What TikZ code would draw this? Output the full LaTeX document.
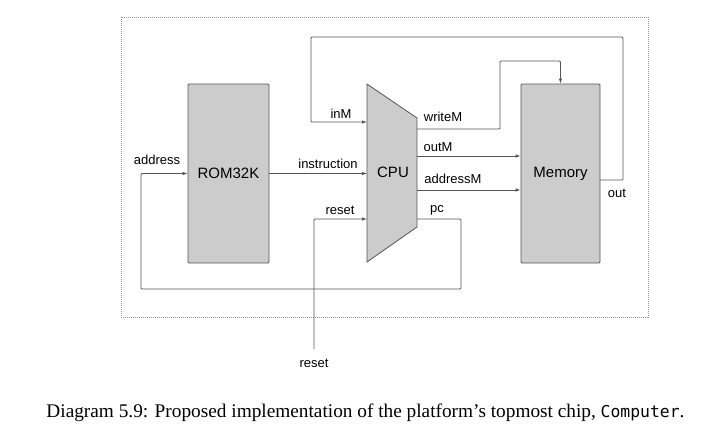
\documentclass[tikz,border=0pt]{standalone}
\usepackage{fontspec}
\setmainfont{Liberation Serif}
\setsansfont{Liberation Sans}
\setmonofont[Scale=0.85]{DejaVu Sans Mono}
\usetikzlibrary{arrows.meta, positioning, calc}
\definecolor{chipgray}{RGB}{204,204,204}
\definecolor{wiregray}{RGB}{85,85,85}
\definecolor{framegray}{RGB}{150,150,150}

\begin{document}
\begin{tikzpicture}[x=1pt, y=-1pt,
    chip/.style={draw=wiregray, fill=chipgray, line width=0.8pt, rounded corners=1pt,
      minimum width=80pt, minimum height=179pt, font=\sffamily\fontsize{15}{15}\selectfont},
    wire/.style={draw=wiregray, line width=0.8pt, rounded corners=1pt},
    bus/.style={wire, -{Latex[length=5pt,width=3.5pt]}},
    pin/.style={font=\sffamily\fontsize{13}{13}\selectfont, inner sep=0pt}]
  \useasboundingbox (0,0) rectangle (707,440);

  % Computer frame
  \draw[framegray, dash pattern=on 1pt off 1pt, line width=0.9pt] (121,17) rectangle (648,317);

  % Chips
  \node[chip, minimum width=81pt] (rom) at (228.5,173.5) {ROM32K};
  \node[chip, minimum width=79pt] (memory) at (560.5,173.5) {Memory};
  \draw[wire, fill=chipgray, rounded corners=0pt] (367,84) -- (417,118) -- (417,227) -- (367,262) -- cycle;
  \node[font=\sffamily\fontsize{15}{15}\selectfont] (cpu) at (393,172) {CPU};

  % Pins
  \coordinate (cpu inM) at (367,122);
  \coordinate (cpu reset) at (367,219);
  \coordinate (cpu writeM) at (417,129);
  \coordinate (cpu outM) at (417,156);
  \coordinate (cpu addressM) at (417,190);
  \coordinate (cpu pc) at (417,219);
  \coordinate (mem out) at (600,180);
  \coordinate (reset in) at (314,349);

  % Wires
  \draw[bus] (rom.east) -- (rom.east -| cpu inM);
  \draw[bus] (mem out) -| (623,37) -| (311,122) -- (cpu inM);
  \draw[bus] (cpu writeM) -| (500,61) -| (memory.north);
  \draw[bus] (cpu outM) -- (cpu outM -| memory.west);
  \draw[bus] (cpu addressM) -- (cpu addressM -| memory.west);
  \draw[bus] (cpu pc) -| (461,289) -| (141,173.5) -- (rom.west);
  \draw[bus] (reset in) |- (cpu reset);

  % Labels
  \node[pin] (l address) at (157,160) {address};
  \node[pin] (l instruction) at (328,164) {instruction};
  \node[pin] (l inM) at (341,114) {inM};
  \node[pin] (l reset) at (340,210) {reset};
  \node[pin] (l writeM) at (443,117) {writeM};
  \node[pin] (l outM) at (438,147) {outM};
  \node[pin] (l addressM) at (453,179) {addressM};
  \node[pin] (l pc) at (437,210) {pc};
  \node[pin] (l out) at (617,193) {out};
  \node[pin] (l reset in) at (314,363) {reset};

  % Caption
  \node[font=\fontsize{19.3}{19.3}\selectfont] (caption) at (365.5,413)
    {Diagram 5.9: Proposed implementation of the platform’s topmost chip, \texttt{Computer}.};
\end{tikzpicture}
\end{document}
